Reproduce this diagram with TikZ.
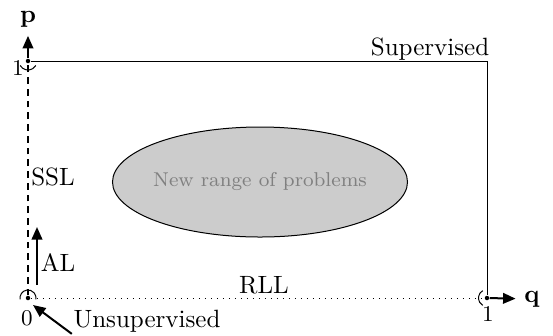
\documentclass[tikz,border=0pt]{standalone}
\usepackage{amsmath}
\usepackage{amssymb}
\usepackage{tikz}
\usetikzlibrary{arrows.meta,shapes.geometric}

\begin{document}
\begin{tikzpicture}[>={Triangle[length=5pt,width=4.2pt]},x=0.4pt,y=-0.4pt,
        dot/.style={circle,fill,inner sep=0pt,minimum size=1.8pt},
        num/.style={font=\small,inner sep=1pt},
        lbl/.style={inner sep=0.5pt}]

  \useasboundingbox (0,0) rectangle (553,335);

  \coordinate (c) at (487,61);
  \node[dot] (o)  at (28,298) {};
  \node[dot] (p1) at (28,61) {};
  \node[dot] (q1) at (487,298) {};

  \node (p) at (28,19) {$\mathbf{p}$};
  \node (q) at (532,299) {$\mathbf{q}$};

  \draw (p1) -- (c) -- (q1);
  \draw[semithick,dash pattern=on 2.7pt off 2pt] (o) -- (p1);
  \draw[dotted] (o) -- (q1);

  \draw[->,thick] (p1) -- (p);
  \draw[->,thick] (q1) -- (q);

  % open ends
  \draw (p1) ++(210:3.6pt) arc[start angle=210,end angle=330,radius=3.6pt];
  \draw (o) ++(190:3.2pt) arc[start angle=190,end angle=-10,radius=3.2pt];
  \draw (q1) ++(120:3.4pt) arc[start angle=120,end angle=240,radius=3.4pt];

  \node[num] (n1p) at (18,68) {1};
  \node[num] (n0)  at (27,318) {0};
  \node[num] (n1q) at (488,314) {1};

  \node[ellipse,draw,fill=gray!40,inner sep=0pt,minimum width=118pt,
        minimum height=44pt] (prob) at (260,182) {};
  \node[font=\footnotesize,text=gray] (probtxt) at (prob) {New range of problems};

  \node[lbl] (sup) at (430,49) {Supervised};
  \node[lbl] (ssl) at (53,177) {SSL};
  \node[lbl] (rll) at (264,285) {RLL};

  \coordinate (al0) at (37,285);
  \coordinate (al1) at (37,227);
  \draw[->,thick] (al0) -- (al1);
  \node[lbl] (al) at (58,263) {AL};

  \node[lbl] (uns) at (147,321) {Unsupervised};
  \coordinate (u0) at (33,305);
  \draw[->,thick] (uns.south west) -- (u0);

\end{tikzpicture}
\end{document}
